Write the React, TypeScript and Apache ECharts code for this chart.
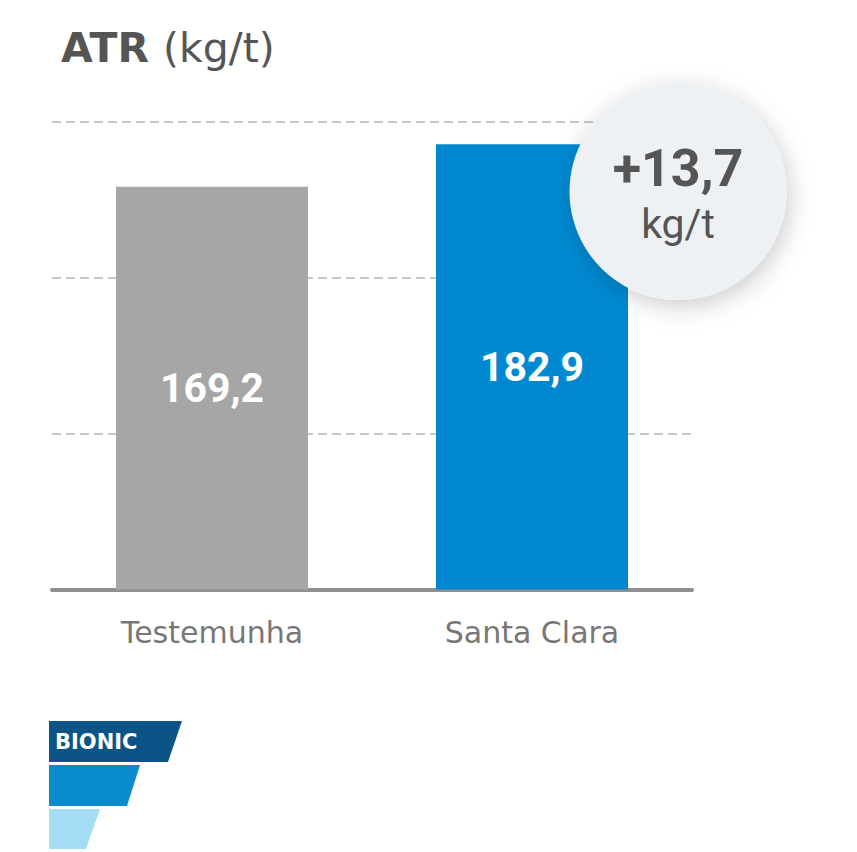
import React, { useEffect, useRef } from "react";
import * as echarts from "echarts";

const categories = ["Testemunha", "Santa Clara"];
const values = [169.2, 182.9];
const barColors = ["#a6a6a6", "#0089d1"];
const yMin = 40;
const yMax = 190;
const yInterval = 50;
const titleMain = "ATR";
const titleUnit = "(kg/t)";
const unit = "kg/t";
const brand = "BIONIC";

const fmt = (v: number) => v.toFixed(1).replace(".", ",");

export default function App() {
  const ref = useRef<HTMLDivElement>(null);
  useEffect(() => {
    document.body.style.margin = "0";
    const chart = echarts.init(ref.current!, null, { renderer: "svg" });
    const diff = values[1] - values[0];
    chart.setOption({
      animation: false,
      backgroundColor: "#ffffff",
      title: {
        text: `{b|${titleMain}}{r|${titleUnit}}`,
        left: 56,
        top: 18,
        textStyle: {
          fontWeight: "normal",
          rich: {
            b: { fontFamily: "DejaVu Sans", fontWeight: "bold", fontSize: 41, color: "#555555", lineHeight: 50, padding: [0, 14, 0, 0] },
            r: { fontFamily: "DejaVu Sans", fontWeight: "normal", fontSize: 41, color: "#555555", lineHeight: 50 },
          },
        },
      },
      grid: { left: 52, right: 165, top: 122, bottom: 262.5, containLabel: false },
      xAxis: {
        type: "category",
        data: categories,
        axisLine: { lineStyle: { color: "#8f8f8f", width: 4 } },
        axisTick: { show: false },
        axisLabel: { color: "#777777", fontFamily: "DejaVu Sans", fontSize: 30, margin: 28 },
      },
      yAxis: {
        type: "value",
        min: yMin,
        max: yMax,
        interval: yInterval,
        axisLine: { show: false },
        axisTick: { show: false },
        axisLabel: { show: false },
        splitLine: { lineStyle: { color: "#c6c6c6", width: 2, type: [9, 5] } },
      },
      series: [
        {
          type: "bar",
          data: values.map((v, i) => ({ value: v, itemStyle: { color: barColors[i] } })),
          barWidth: "60%",
          label: {
            show: true,
            position: "inside",
            formatter: (p: any) => fmt(p.value),
            color: "#ffffff",
            fontFamily: "Roboto",
            fontWeight: "bold",
            fontSize: 41,
          },
        },
      ],
      graphic: [
        {
          type: "circle",
          z: 100,
          shape: { cx: 678, cy: 191.5, r: 108.5 },
          style: {
            fill: "#eef1f3",
            shadowBlur: 24,
            shadowColor: "rgba(0,0,0,0.2)",
            shadowOffsetX: 3,
            shadowOffsetY: 6,
          },
        },
        {
          type: "text",
          z: 101,
          x: 678,
          y: 168,
          style: {
            text: "+" + fmt(diff),
            textAlign: "center",
            textVerticalAlign: "middle",
            fontFamily: "Roboto",
            fontWeight: "bold",
            fontSize: 52,
            fill: "#555555",
          },
        },
        {
          type: "text",
          z: 101,
          x: 678,
          y: 224,
          style: {
            text: unit,
            textAlign: "center",
            textVerticalAlign: "middle",
            fontFamily: "Roboto",
            fontSize: 41,
            fill: "#555555",
          },
        },
        {
          type: "polygon",
          z: 100,
          shape: { points: [[49, 721], [182, 721], [168, 762], [49, 762]] },
          style: { fill: "#0b5486" },
        },
        {
          type: "polygon",
          z: 100,
          shape: { points: [[49, 765], [140, 765], [127, 806], [49, 806]] },
          style: { fill: "#0a8bcc" },
        },
        {
          type: "polygon",
          z: 100,
          shape: { points: [[49, 809], [100, 809], [86, 849], [49, 849]] },
          style: { fill: "#a6ddf6" },
        },
        {
          type: "text",
          z: 101,
          x: 55,
          y: 742,
          style: {
            text: brand,
            textAlign: "left",
            textVerticalAlign: "middle",
            fontFamily: "DejaVu Sans",
            fontWeight: "bold",
            fontSize: 21,
            fill: "#ffffff",
          },
        },
      ],
    });
    return () => chart.dispose();
  }, []);
  return <div ref={ref} style={{ width: 857, height: 852 }} />;
}
